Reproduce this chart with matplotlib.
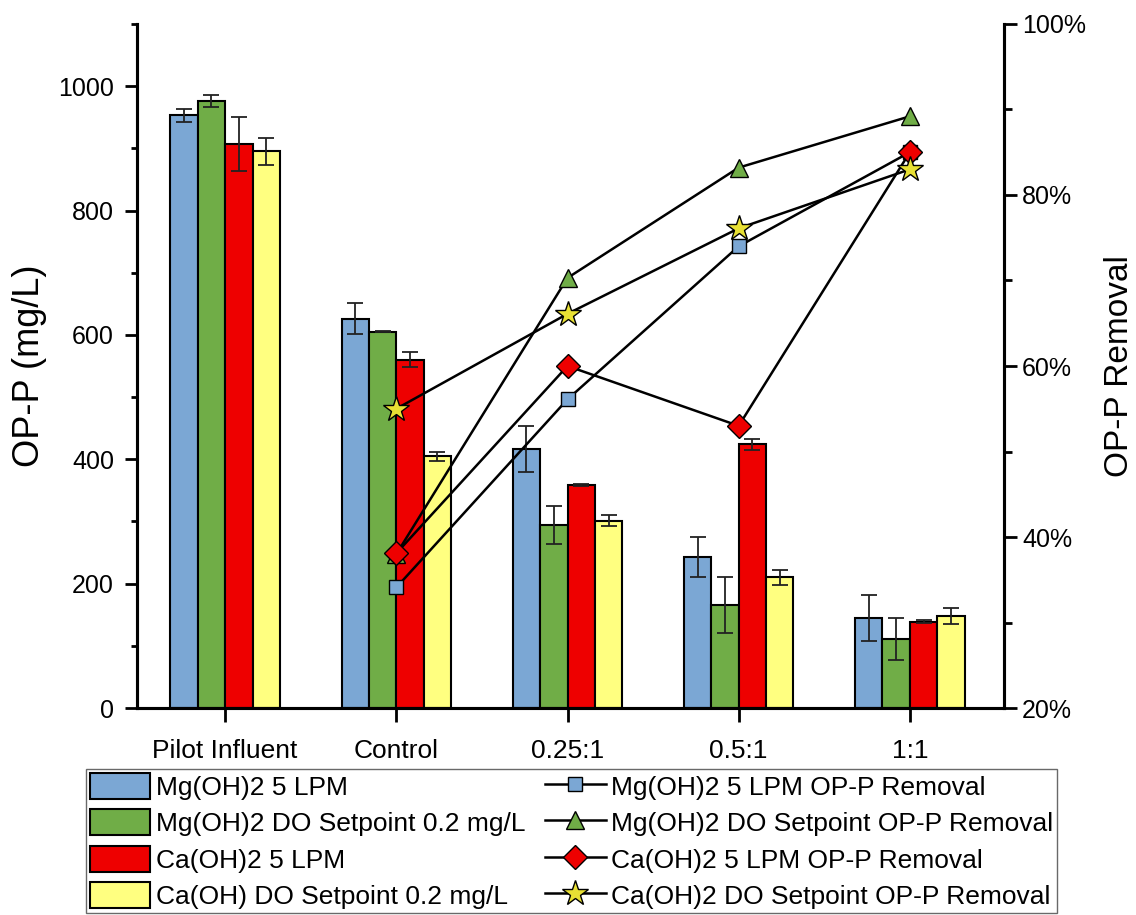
import matplotlib
matplotlib.use('Agg')
import matplotlib.pyplot as plt
import numpy as np
from matplotlib.ticker import MultipleLocator, FuncFormatter

plt.rcParams['font.family'] = ['Liberation Sans', 'DejaVu Sans']

categories = ['Pilot Influent', 'Control', '0.25:1', '0.5:1', '1:1']

# bar data: OP-P (mg/L) and error
mg5_vals = [953, 626, 416, 243, 145]
mg5_err = [11, 25, 37, 32, 37]
mgdo_vals = [976, 605, 294, 165, 111]
mgdo_err = [10, 1, 31, 45, 33]
ca5_vals = [907, 560, 359, 424, 139]
ca5_err = [43, 12, 2, 9, 2]
cado_vals = [895, 405, 301, 210, 148]
cado_err = [21, 7, 9, 12, 13]

# removal lines (%), from Control to 1:1
line_cats = ['Control', '0.25:1', '0.5:1', '1:1']
mg5_removal = [34.1, 56.1, 74.0, 85.0]
mgdo_removal = [38.0, 70.3, 83.2, 89.2]
ca5_removal = [38.1, 60.0, 53.0, 85.0]
cado_removal = [55.0, 66.1, 76.1, 83.0]

BLUE = '#7BA7D4'
GREEN = '#70AD47'
RED = '#EE0000'
YELLOW = '#FFFF80'
STAR = '#E8E034'
BAR_W = 0.16

fig = plt.figure(figsize=(11.36, 9.15), dpi=100)
ax = fig.add_axes([0.1206, 0.2262, 0.7632, 0.7476])
ax2 = ax.twinx()

x = np.arange(len(categories))
err_kw = dict(ecolor='#222222', elinewidth=1.3, capsize=6, capthick=1.3)
bar_sets = [
    (mg5_vals, mg5_err, BLUE, 'Mg(OH)2 5 LPM'),
    (mgdo_vals, mgdo_err, GREEN, 'Mg(OH)2 DO Setpoint 0.2 mg/L'),
    (ca5_vals, ca5_err, RED, 'Ca(OH)2 5 LPM'),
    (cado_vals, cado_err, YELLOW, 'Ca(OH) DO Setpoint 0.2 mg/L'),
]
bar_handles = []
for i, (vals, errs, col, lab) in enumerate(bar_sets):
    b = ax.bar(x + (i - 1.5) * BAR_W, vals, BAR_W, yerr=errs, color=col,
               edgecolor='black', linewidth=1.5, label=lab, error_kw=err_kw)
    bar_handles.append(b)

lx = np.array([categories.index(c) for c in line_cats])
line_sets = [
    (mg5_removal, 's', BLUE, 10, 'Mg(OH)2 5 LPM OP-P Removal'),
    (mgdo_removal, '^', GREEN, 13, 'Mg(OH)2 DO Setpoint OP-P Removal'),
    (ca5_removal, 'D', RED, 12, 'Ca(OH)2 5 LPM OP-P Removal'),
    (cado_removal, '*', STAR, 19, 'Ca(OH)2 DO Setpoint OP-P Removal'),
]
line_handles = []
for vals, mk, col, ms, lab in line_sets:
    l, = ax2.plot(lx, vals, color='black', linewidth=1.8, marker=mk,
                  markersize=ms, markerfacecolor=col, markeredgecolor='black',
                  markeredgewidth=1.0, label=lab)
    line_handles.append(l)

ax.set_xlim(-0.515, 4.55)
ax.set_ylim(0, 1100)
ax2.set_ylim(20, 100)

ax.set_xticks(x)
ax.set_xticklabels(categories, fontsize=19)
ax.yaxis.set_major_locator(MultipleLocator(200))
ax.yaxis.set_minor_locator(MultipleLocator(100))
ax.tick_params(axis='y', which='major', labelsize=18, length=8.5, width=2,
               direction='out', pad=8)
ax.tick_params(axis='y', which='minor', length=4.5, width=2, direction='out')
ax.tick_params(axis='x', length=10, width=2, direction='out', pad=12)

ax2.yaxis.set_major_locator(MultipleLocator(20))
ax2.yaxis.set_minor_locator(MultipleLocator(10))
ax2.yaxis.set_major_formatter(FuncFormatter(lambda v, p: f'{v:.0f}%'))
ax2.tick_params(axis='y', which='major', labelsize=18, length=9.5, width=2, direction='out')
ax2.tick_params(axis='y', which='minor', length=5.5, width=2, direction='out')

for a in (ax, ax2):
    a.spines['top'].set_visible(False)
    for s in ('left', 'right', 'bottom'):
        a.spines[s].set_linewidth(2.2)

ax.set_ylabel('OP-P (mg/L)', fontsize=26, labelpad=8)
ax2.set_ylabel('OP-P Removal', fontsize=24, labelpad=13)

leg = fig.legend(bar_handles + line_handles,
                 [h.get_label() for h in bar_handles + line_handles],
                 ncol=2, loc='center', bbox_to_anchor=(0.503, 0.081),
                 fontsize=19, frameon=True, fancybox=False, edgecolor='#444444',
                 handlelength=2.3, handleheight=1.15, handletextpad=0.2,
                 columnspacing=0.75, labelspacing=0.35, borderpad=0.15,
                 borderaxespad=0)
leg.get_frame().set_linewidth(1.0)

fig.savefig('out.png', dpi=100)
